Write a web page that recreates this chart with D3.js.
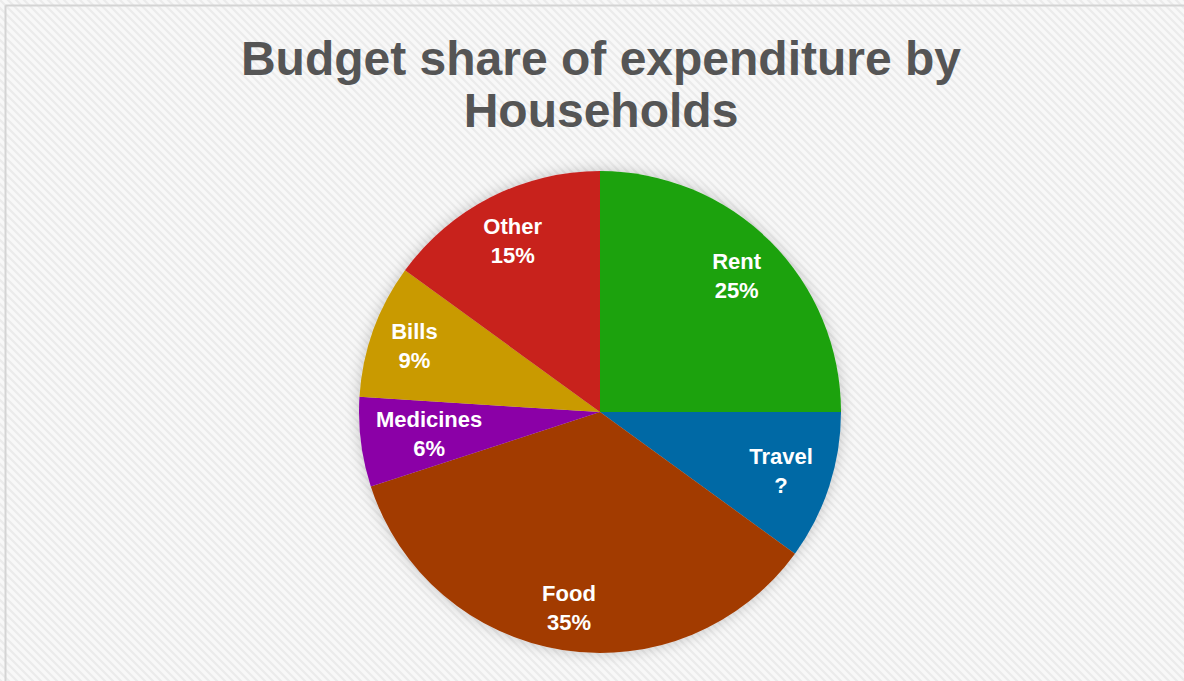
<!DOCTYPE html>
<html><head><meta charset="utf-8">
<script src="https://cdn.jsdelivr.net/npm/d3@7"></script>
<style>html,body{margin:0;padding:0;background:#fff;}svg{display:block;}</style>
</head><body>
<svg id="chart" width="1184" height="681"></svg>
<script>
const categories = ["Rent", "Travel", "Food", "Medicines", "Bills", "Other"];
const shares = [25, 10, 35, 6, 9, 15];
const valueLabels = ["25%", "?", "35%", "6%", "9%", "15%"];
const colors = ["#1aa20a", "#0569a5", "#a23b00", "#8b03a7", "#c99a00", "#c8211f"];
const titleLines = ["Budget share of expenditure by", "Households"];

const W = 1184, H = 681;
const svg = d3.select("#chart");
const defs = svg.append("defs");

const pat = defs.append("pattern").attr("id", "bgpat").attr("patternUnits", "userSpaceOnUse")
  .attr("width", 8).attr("height", 8);
pat.append("rect").attr("width", 8).attr("height", 8).attr("fill", "#f8f8f8");
pat.append("path").attr("d", "M-2,-2 L10,10 M-2,6 L2,10 M6,-2 L10,2")
  .attr("stroke", "#ebebeb").attr("stroke-width", 2.2);

const shadow = defs.append("filter").attr("id", "shadow").attr("x", "-20%").attr("y", "-20%")
  .attr("width", "140%").attr("height", "140%");
shadow.append("feGaussianBlur").attr("in", "SourceAlpha").attr("stdDeviation", 7).attr("result", "b");
shadow.append("feFlood").attr("flood-color", "#000").attr("flood-opacity", 0.22).attr("result", "c");
shadow.append("feComposite").attr("in", "c").attr("in2", "b").attr("operator", "in").attr("result", "s");
const m = shadow.append("feMerge");
m.append("feMergeNode").attr("in", "s");
m.append("feMergeNode").attr("in", "SourceGraphic");

svg.append("rect").attr("width", W).attr("height", H).attr("fill", "url(#bgpat)");
svg.append("line").attr("x1", 5.5).attr("y1", 5.5).attr("x2", W).attr("y2", 5.5)
  .attr("stroke", "#d4d4d4").attr("stroke-width", 2);
svg.append("line").attr("x1", 5.5).attr("y1", 5.5).attr("x2", 5.5).attr("y2", H)
  .attr("stroke", "#d4d4d4").attr("stroke-width", 2);

const title = svg.append("text").attr("text-anchor", "middle")
  .attr("font-family", "Liberation Sans, Arial, sans-serif").attr("font-weight", "bold")
  .attr("font-size", 48).attr("fill", "#555555");
titleLines.forEach((t, i) => title.append("tspan").attr("x", 601).attr("y", 75 + i * 52).text(t));

const cx = 600, cy = 412, R = 241;
const data = categories.map((c, i) => ({ name: c, value: shares[i], label: valueLabels[i], color: colors[i] }));
const pie = d3.pie().value(d => d.value).sort(null);
const arc = d3.arc().innerRadius(0).outerRadius(R);
const arcs = pie(data);

const g = svg.append("g").attr("transform", `translate(${cx},${cy})`);
g.append("g").attr("filter", "url(#shadow)").selectAll("path").data(arcs).join("path")
  .attr("d", arc).attr("fill", d => d.data.color);

const fs = 22, lh = 29;
const labels = g.append("g").attr("font-family", "Liberation Sans, Arial, sans-serif")
  .attr("font-weight", "bold").attr("font-size", fs).attr("fill", "#fff").attr("text-anchor", "middle");
arcs.forEach(a => {
  const mid = (a.startAngle + a.endAngle) / 2;
  const t = labels.append("text");
  t.append("tspan").attr("x", 0).attr("dy", 0).text(a.data.name);
  t.append("tspan").attr("x", 0).attr("dy", lh).text(a.data.label);
  const bb = t.node().getBBox();
  const hw = bb.width / 2, hh = (lh + fs) / 2;
  let r = R * 0.86;
  const limit = R - 12;
  const fits = rr => {
    const x = Math.sin(mid) * rr, y = -Math.cos(mid) * rr;
    return [[-1,-1],[1,-1],[-1,1],[1,1]].every(([sx, sy]) => Math.hypot(x + sx * hw, y + sy * hh) <= limit);
  };
  while (r > 0 && !fits(r)) r -= 1;
  const x = Math.sin(mid) * r, y = -Math.cos(mid) * r;
  t.attr("transform", `translate(${x},${y - hh + fs * 0.86})`);
});
</script>
</body></html>
